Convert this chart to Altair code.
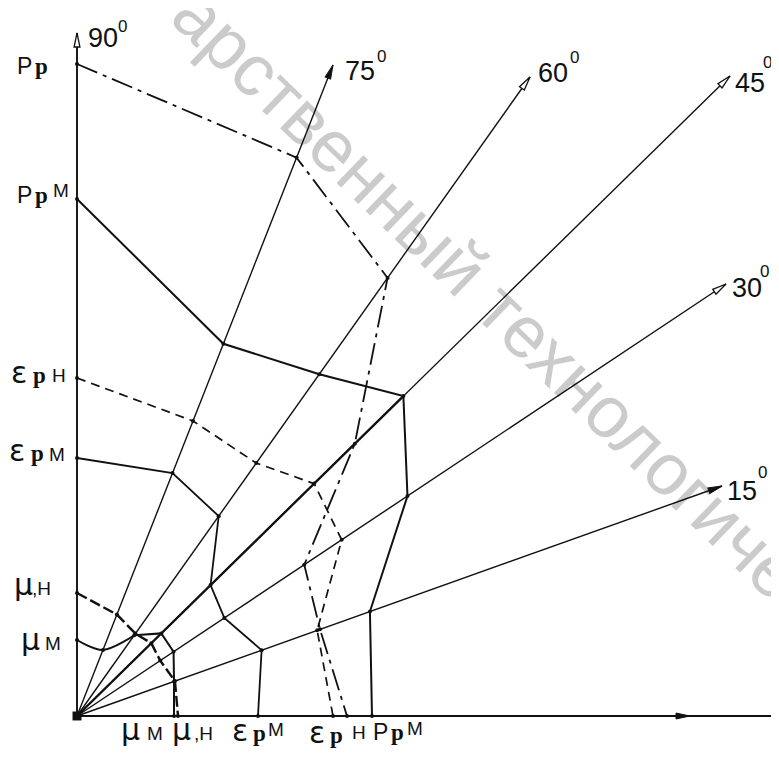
import math
import pandas as pd
import altair as alt

# ---------------- values ----------------
ANGLES = [90, 75, 60, 45, 30, 15, 0]              # ray labels, degrees
RAY_TIP_X = [0, 256, 453, 653, 649, 645, 702]     # drawn ends of the rays (px from origin)
RAY_TIP_Y = [683, 651, 639, 640, 432, 230, 0]
X_ARROW_R = 613                                    # arrow on the horizontal axis

# radius of each property curve on each ray (same order as ANGLES)
PP    = [652, 600, 537, 389, 273, 258, 270]   # Pp   (dash-dot)
PP_M  = [517, 400, 419, 457, 397, 311, 295]   # PpМ  (solid)
EPS_N = [338, 317, 310, 332, 318, 255, 256]   # εpН  (dashed)
EPS_M = [258, 261, 245, 187, 177, 196, 181]   # εpМ  (solid)
MU_N  = [123, 109, 101, 104, 100, 104, 101]   # μН   (heavy dashes)
MU_M  = [76, 71, 99, 118, 116, 103, 97]       # μМ   (solid)

WATERMARK = "арственный технологический университет"

# ---------------- layout / style (not data) ----------------
ARROW_FILLED = [False, True, False, False, False, True, True]
# label pieces: (curve, text, role, dx, dy) offsets in px from the curve's end point
Y_LABEL_PARTS = [
    ("Pp", "P", "roman", -60, 10), ("Pp", "p", "sub", -42, 10),
    ("PpM", "P", "roman", -60, 4), ("PpM", "p", "sub", -42, 4), ("PpM", "М", "suf", -24, -2),
    ("epsN", "ε", "greek", -66, 5), ("epsN", "p", "sub", -44, 5), ("epsN", "Н", "suf", -25, 4),
    ("epsM", "ε", "greek", -68, 3), ("epsM", "p", "sub", -46, 3), ("epsM", "М", "suf", -28, 3),
    ("muN", "μ", "greek", -63, 2), ("muN", ",Н", "suf", -45, 2),
    ("muM", "μ", "greek", -56, 10), ("muM", "М", "suf", -32, 10),
]
X_LABEL_PARTS = [
    ("muM", "μ", "greek", -53, 24), ("muM", "М", "suf", -27, 24),
    ("muN", "μ", "greek", -6, 24), ("muN", ",Н", "suf", 16, 24),
    ("epsM", "ε", "greek", -26, 25), ("epsM", "p", "sub", -5, 25), ("epsM", "М", "suf", 10, 20),
    ("epsN", "ε", "greek", -24, 27), ("epsN", "p", "sub", -3, 27), ("epsN", "Н", "suf", 19, 23),
    ("PpM", "P", "roman", 1, 24), ("PpM", "p", "sub", 19, 24), ("PpM", "М", "suf", 35, 19),
]
ANGLE_LABEL_OFFSETS = [(11, 14, 41, -1), (12, 15, 44, -3), (8, 5, 40, -14),
                       (5, 16, 33, -8), (6, 13, 34, -7), (5, 14, 36, -8)]
FONTS = {
    "roman": ("Liberation Sans", 23, "normal"),
    "sub": ("Liberation Serif", 23, "bold"),
    "greek": ("DejaVu Sans", 30, "normal"),
    "suf": ("Liberation Sans", 19, "normal"),
    "angle": ("Liberation Sans", 27, "normal"),
    "deg": ("Liberation Sans", 17, "normal"),
}
INK = "#111111"

# ---------------- build tables ----------------
CURVES = {"Pp": PP, "PpM": PP_M, "epsN": EPS_N, "epsM": EPS_M, "muN": MU_N, "muM": MU_M}
unit = []
for tx, ty in zip(RAY_TIP_X, RAY_TIP_Y):
    L = math.hypot(tx, ty)
    unit.append((tx / L, ty / L))

rows = []
for name, radii in CURVES.items():
    for i, r in enumerate(radii):
        rows.append(dict(curve=name, idx=i, X=r * unit[i][0], Y=r * unit[i][1]))
curves = pd.DataFrame(rows)

ray_rows = []
for i, a in enumerate(ANGLES):
    ray_rows.append(dict(angle=a, o=0, X=0.0, Y=0.0))
    ray_rows.append(dict(angle=a, o=1, X=float(RAY_TIP_X[i]), Y=float(RAY_TIP_Y[i])))
rays = pd.DataFrame(ray_rows)

i45 = ANGLES.index(45)
bold45 = pd.DataFrame([dict(o=0, X=0.0, Y=0.0),
                       dict(o=1, X=PP_M[i45] * unit[i45][0], Y=PP_M[i45] * unit[i45][1])])

ARROW_LEN = 14
arr_rows = []
for i, a in enumerate(ANGLES):
    ux, uy = unit[i]
    r_tip = math.hypot(RAY_TIP_X[i], RAY_TIP_Y[i]) if a != 0 else X_ARROW_R
    rc = r_tip - ARROW_LEN / 2
    phi = math.degrees(math.atan2(uy, ux))
    arr_rows.append(dict(X=rc * ux, Y=rc * uy, rot=90 - phi, filled=ARROW_FILLED[i]))
arrows = pd.DataFrame(arr_rows)

txt_rows = []
end90 = {n: v[0] for n, v in CURVES.items()}
end0 = {n: v[-1] for n, v in CURVES.items()}
for c, t, role, dx, dy in Y_LABEL_PARTS:
    txt_rows.append(dict(text=t, role=role, X=0 + dx, Y=end90[c] - dy))
for c, t, role, dx, dy in X_LABEL_PARTS:
    txt_rows.append(dict(text=t, role=role, X=end0[c] + dx, Y=0 - dy))
for i, (dx1, dy1, dx2, dy2) in enumerate(ANGLE_LABEL_OFFSETS):
    txt_rows.append(dict(text=str(ANGLES[i]), role="angle", X=RAY_TIP_X[i] + dx1, Y=RAY_TIP_Y[i] - dy1))
    txt_rows.append(dict(text="0", role="deg", X=RAY_TIP_X[i] + dx2, Y=RAY_TIP_Y[i] - dy2))
texts = pd.DataFrame(txt_rows)

wm = pd.DataFrame([dict(text=WATERMARK, X=106, Y=712)])

# ---------------- chart ----------------
xs = alt.Scale(domain=[-69, 694], nice=False, zero=False)
ys = alt.Scale(domain=[-34, 708], nice=False, zero=False)
X = alt.X("X:Q", scale=xs, axis=None)
Y = alt.Y("Y:Q", scale=ys, axis=None)

layers = []
layers.append(alt.Chart(wm).mark_text(font="Liberation Sans", fontSize=73, color="#cbcbcb",
                                      angle=44, align="left", baseline="middle")
              .encode(x=X, y=Y, text="text:N"))
layers.append(alt.Chart(rays).transform_filter("datum.angle != 0 && datum.angle != 90")
              .mark_line(color=INK, strokeWidth=1.4)
              .encode(x=X, y=Y, detail="angle:N", order="o:Q"))
layers.append(alt.Chart(rays).transform_filter("datum.angle == 0 || datum.angle == 90")
              .mark_line(color=INK, strokeWidth=1.9)
              .encode(x=X, y=Y, detail="angle:N", order="o:Q"))
layers.append(alt.Chart(bold45).mark_line(color=INK, strokeWidth=2.3).encode(x=X, y=Y, order="o:Q"))

styles = {
    "Pp": dict(strokeWidth=1.8, strokeDash=[22, 6, 4, 6]),
    "PpM": dict(strokeWidth=2.0),
    "epsN": dict(strokeWidth=1.7, strokeDash=[9, 6]),
    "epsM": dict(strokeWidth=1.8),
    "muN": dict(strokeWidth=2.4, strokeDash=[11, 4]),
}
for name, st in styles.items():
    layers.append(alt.Chart(curves).transform_filter(alt.datum.curve == name)
                  .mark_line(color=INK, **st).encode(x=X, y=Y, order="idx:Q"))
# μМ: rounded near the vertical axis, straight afterwards
layers.append(alt.Chart(curves).transform_filter("datum.curve == 'muM' && datum.idx <= 2")
              .mark_line(color=INK, strokeWidth=2.0, interpolate="catmull-rom")
              .encode(x=X, y=Y, order="idx:Q"))
layers.append(alt.Chart(curves).transform_filter("datum.curve == 'muM' && datum.idx >= 2")
              .mark_line(color=INK, strokeWidth=2.0)
              .encode(x=X, y=Y, order="idx:Q"))

layers.append(alt.Chart(curves).mark_circle(color=INK, size=16, opacity=1).encode(x=X, y=Y))

ARROW_PATH = "M0,-1L0.42,1L-0.42,1Z"
layers.append(alt.Chart(arrows).transform_filter("datum.filled")
              .mark_point(shape=ARROW_PATH, size=ARROW_LEN ** 2, filled=True, fill=INK, stroke=INK,
                          strokeWidth=1, opacity=1)
              .encode(x=X, y=Y, angle=alt.Angle("rot:Q", scale=None)))
layers.append(alt.Chart(arrows).transform_filter("!datum.filled")
              .mark_point(shape=ARROW_PATH, size=ARROW_LEN ** 2, filled=True, fill="white", stroke=INK,
                          strokeWidth=1.3, opacity=1)
              .encode(x=X, y=Y, angle=alt.Angle("rot:Q", scale=None)))
layers.append(alt.Chart(rays).transform_filter("datum.o == 0 && datum.angle == 45")
              .mark_square(color=INK, size=80, opacity=1).encode(x=X, y=Y))

for role, (font, size, weight) in FONTS.items():
    layers.append(alt.Chart(texts).transform_filter(alt.datum.role == role)
                  .mark_text(font=font, fontSize=size, fontWeight=weight, color=INK,
                             align="left", baseline="alphabetic")
                  .encode(x=X, y=Y, text="text:N"))

chart = (alt.layer(*layers)
         .properties(width=763, height=742, padding=0, background="white",
                     autosize=alt.AutoSizeParams(type="none"))
         .configure_view(strokeWidth=0))

chart.save("out.html", embed_options={"renderer": "svg", "actions": False})
